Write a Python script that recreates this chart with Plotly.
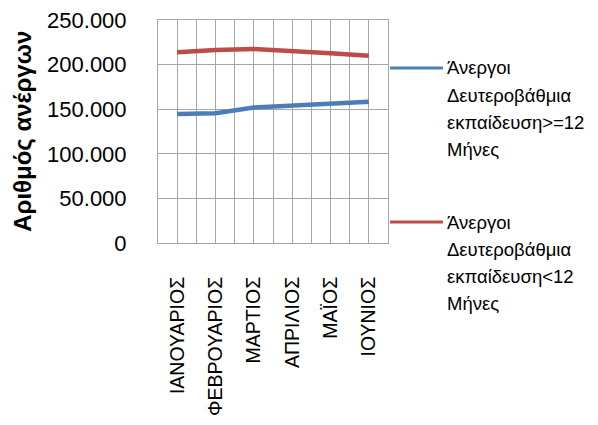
import plotly.graph_objects as go

months = ["ΙΑΝΟΥΑΡΙΟΣ", "ΦΕΒΡΟΥΑΡΙΟΣ", "ΜΑΡΤΙΟΣ", "ΑΠΡΙΛΙΟΣ", "ΜΑΪΟΣ", "ΙΟΥΝΙΟΣ"]
over_12 = [144600, 145400, 152000, 153900, 156200, 158400]
under_12 = [213800, 216400, 217500, 214500, 212700, 210000]

label_over = ["Άνεργοι", "Δευτεροβάθμια", "εκπαίδευση>=12", "Μήνες"]
label_under = ["Άνεργοι", "Δευτεροβάθμια", "εκπαίδευση<12", "Μήνες"]

font = "Liberation Sans"
grid = "#a6a6a6"
blue = "#4a7ebb"
red = "#be4b48"
x_pos = list(range(len(months)))
boundaries = [i - 0.5 for i in range(len(months) + 1)]

fig = go.Figure()
fig.add_trace(go.Scatter(x=x_pos, y=over_12, name=" ".join(label_over), mode="lines",
                         line=dict(color=blue, width=4.5)))
fig.add_trace(go.Scatter(x=x_pos, y=under_12, name=" ".join(label_under), mode="lines",
                         line=dict(color=red, width=4.5)))

# legend drawn by hand so the line samples and wrapped labels sit like the original
line_step = 0.1215
for lines, color, y0 in [(label_over, blue, 0.785), (label_under, red, 0.094)]:
    fig.add_shape(type="line", xref="paper", yref="paper",
                  x0=1.009, x1=1.239, y0=y0, y1=y0,
                  line=dict(color=color, width=3))
    for k, txt in enumerate(lines):
        fig.add_annotation(text=txt, xref="paper", yref="paper",
                           x=1.248, y=y0 - k * line_step,
                           xanchor="left", yanchor="middle", align="left",
                           showarrow=False, font=dict(size=18.5, family=font))

fig.add_annotation(text="<b>Αριθμός ανέργων</b>", xref="paper", yref="paper",
                   x=-0.59, y=0.5, textangle=-90, showarrow=False,
                   xanchor="center", yanchor="middle", font=dict(size=24, family=font))

# page body has an 8px margin, so the figure is a bit smaller than the window
fig.update_layout(
    width=590, height=409,
    margin=dict(l=150, r=210, t=12, b=174),
    plot_bgcolor="white", paper_bgcolor="white",
    separators=",.",
    font=dict(family=font, color="black"),
    showlegend=False,
    xaxis=dict(
        range=[-0.5, len(months) - 0.5], automargin=False,
        tickvals=x_pos, ticktext=months, tickangle=-90,
        tickfont=dict(size=19.5), ticklabelstandoff=25,
        showgrid=True, gridcolor=grid, gridwidth=1,
        minor=dict(showgrid=True, gridcolor=grid, gridwidth=1,
                   tickmode="array", tickvals=boundaries),
        showline=True, linecolor=grid, mirror=True, zeroline=False,
    ),
    yaxis=dict(
        range=[0, 250000], dtick=50000, tickformat=",d", automargin=False,
        tickfont=dict(size=22), ticklabelstandoff=26, ticklabeloverflow="allow",
        showgrid=True, gridcolor=grid, gridwidth=1,
        showline=True, linecolor=grid, mirror=True, zeroline=False,
    ),
)

fig.write_html("out.html")
